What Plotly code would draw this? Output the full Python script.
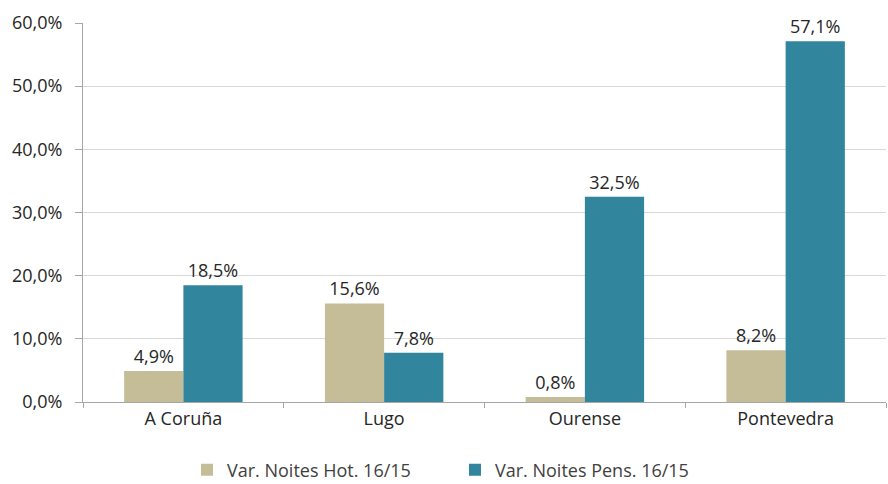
import plotly.graph_objects as go

# Datos
provincias = ['A Coruña', 'Lugo', 'Ourense', 'Pontevedra']
var_hot = [4.9, 15.6, 0.8, 8.2]
var_pens = [18.5, 7.8, 32.5, 57.1]

COR_HOT = '#C4BD97'
COR_PENS = '#31859C'
FONTE = 'Open Sans, Liberation Sans, sans-serif'
TAM = 18

fig = go.Figure()

fig.add_trace(go.Bar(
    x=provincias, y=var_hot, name='Var. Noites Hot. 16/15',
    marker=dict(color=COR_HOT, line=dict(width=0)),
    texttemplate='%{y:.1f}%', textposition='outside',
    textfont=dict(size=TAM, color='#262626'), cliponaxis=False
))
fig.add_trace(go.Bar(
    x=provincias, y=var_pens, name='Var. Noites Pens. 16/15',
    marker=dict(color=COR_PENS, line=dict(width=0)),
    texttemplate='%{y:.1f}%', textposition='outside',
    textfont=dict(size=TAM, color='#262626'), cliponaxis=False
))

fig.update_layout(
    width=888, height=484,
    margin=dict(l=83, r=2, t=23, b=82),
    paper_bgcolor='white', plot_bgcolor='white',
    font=dict(family=FONTE, size=TAM, color='#404040'),
    separators=',.',
    barmode='group', bargap=0.41, bargroupgap=0,
    showlegend=True,
    legend=dict(orientation='h', x=0.1295, xref='paper', xanchor='left',
                yref='container', y=14 / 484, yanchor='middle',
                font=dict(size=TAM, color='#404040'), entrywidth=223,
                itemwidth=30),
)

fig.update_xaxes(
    type='category', tickson='boundaries', ticks='outside', ticklen=5,
    tickcolor='#A6A6A6', showline=True, linecolor='#A6A6A6', linewidth=1,
    showgrid=False, tickfont=dict(size=TAM, color='#262626'), automargin=False
)
fig.update_yaxes(
    range=[0, 60], dtick=10, tickformat='.1f', ticksuffix='%',
    ticks='outside', ticklen=7, tickcolor='#A6A6A6', ticklabelstandoff=9,
    showline=True, linecolor='#A6A6A6', linewidth=1,
    showgrid=True, gridcolor='#D9D9D9', gridwidth=1, zeroline=False,
    tickfont=dict(size=TAM, color='#262626'), automargin=False
)

# sem margem do body para a figura ocupar a janela toda
fig.write_html('out.html', config={'displayModeBar': False},
               post_script="document.body.style.margin='0';")
